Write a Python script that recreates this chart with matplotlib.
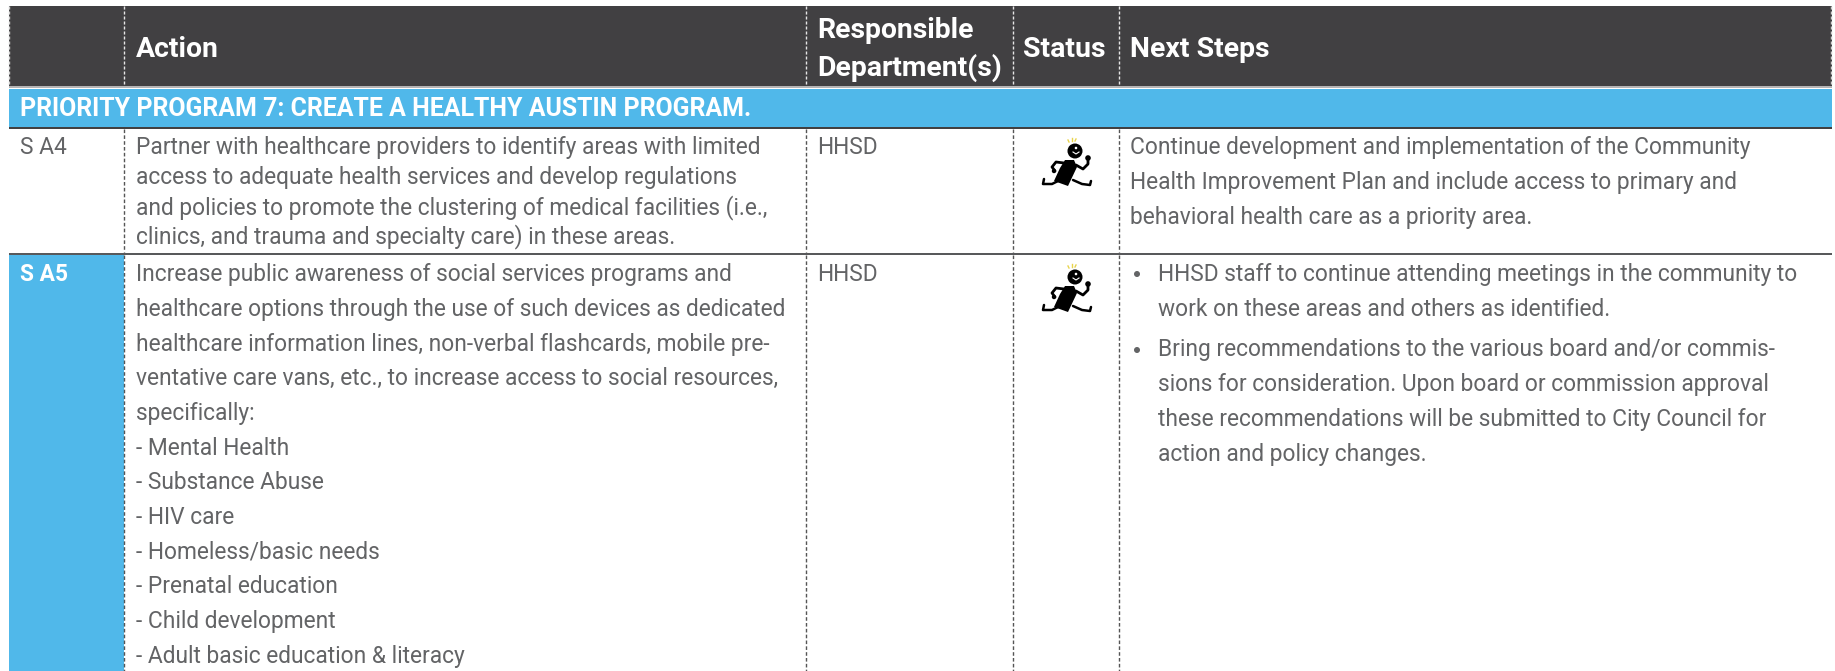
import matplotlib
matplotlib.use("Agg")
import matplotlib.pyplot as plt
from matplotlib.patches import Circle, Polygon, Rectangle

W, H = 1835, 671

header_labels = ["Action", "Responsible\nDepartment(s)", "Status", "Next Steps"]
priority_label = "PRIORITY PROGRAM 7: CREATE A HEALTHY AUSTIN PROGRAM."
row_ids = ["S A4", "S A5"]
departments = ["HHSD", "HHSD"]

s_a4_action = [
    "Partner with healthcare providers to identify areas with limited",
    "access to adequate health services and develop regulations",
    "and policies to promote the clustering of medical facilities (i.e.,",
    "clinics, and trauma and specialty care) in these areas.",
]
s_a4_next = [
    "Continue development and implementation of the Community",
    "Health Improvement Plan and include access to primary and",
    "behavioral health care as a priority area.",
]
s_a5_action = [
    "Increase public awareness of social services programs and",
    "healthcare options through the use of such devices as dedicated",
    "healthcare information lines, non-verbal flashcards, mobile pre-",
    "ventative care vans, etc., to increase access to social resources,",
    "specifically:",
    "- Mental Health",
    "- Substance Abuse",
    "- HIV care",
    "- Homeless/basic needs",
    "- Prenatal education",
    "- Child development",
    "- Adult basic education & literacy",
]
s_a5_bullet_1 = [
    "HHSD staff to continue attending meetings in the community to",
    "work on these areas and others as identified.",
]
s_a5_bullet_2 = [
    "Bring recommendations to the various board and/or commis-",
    "sions for consideration. Upon board or commission approval",
    "these recommendations will be submitted to City Council for",
    "action and policy changes.",
]

DARK = "#414042"
BLUE = "#50b8ea"
TEXT = "#636466"
FONT = "Roboto"
BODY = 16.4

col_x = [9, 124, 806, 1013, 1119]
right = 1832


def body(ax, x, ys, lines):
    for y, line in zip(ys, lines):
        ax.text(x, y, line, color=TEXT, fontsize=BODY, family=FONT, va="baseline")


def runner(ax, cx, cy):
    # little running man, offsets are from the centre of the head
    ax.add_patch(Circle((cx, cy), 7.5, color="black", lw=0))
    ax.add_patch(Polygon([(cx - 10, cy + 9), (cx - 1, cy + 9), (cx + 2, cy + 16), (cx - 7, cy + 35),
                          (cx - 21, cy + 30), (cx - 15, cy + 17)], closed=True, color="black", lw=0))
    ax.plot([cx - 17, cx - 23, cx - 32, cx - 31], [cy + 30, cy + 33, cy + 33, cy + 28],
            color="black", lw=1.8, solid_capstyle="round")
    ax.plot([cx - 2, cx + 7, cx + 15, cx + 16], [cy + 29, cy + 33, cy + 34, cy + 30],
            color="black", lw=1.8, solid_capstyle="round")
    ax.plot([cx - 11, cx - 19, cx - 23, cx - 20], [cy + 12, cy + 11, cy + 16, cy + 20],
            color="black", lw=2, solid_capstyle="round")
    ax.plot([cx + 1, cx + 8, cx + 13, cx + 13], [cy + 14, cy + 18, cy + 13, cy + 8],
            color="black", lw=2, solid_capstyle="round")
    ax.add_patch(Circle((cx + 13, cy + 7), 2.8, color="black", lw=0))
    ax.add_patch(Circle((cx - 21, cy + 20), 2.2, color="black", lw=0))
    for dx0, dx1, dy0, dy1 in [(-6, -7, -9, -11), (-3, -3, -10, -13), (0, 1, -10, -12)]:
        ax.plot([cx + dx0, cx + dx1], [cy + dy0, cy + dy1], color="#e8d44d", lw=1)
    ax.plot([cx - 2, cx + 1, cx + 4], [cy + 1, cy + 3, cy + 1], color="white", lw=0.8)
    ax.add_patch(Circle((cx + 1, cy - 3), 1.3, color="white", lw=0))


fig = plt.figure(figsize=(W / 100, H / 100), dpi=100)
ax = fig.add_axes([0, 0, 1, 1])
ax.set_xlim(0, W)
ax.set_ylim(H, 0)
ax.axis("off")

# bands
ax.add_patch(Rectangle((col_x[0], 6), right - col_x[0], 80, color=DARK, lw=0))
ax.add_patch(Rectangle((col_x[0], 86), right - col_x[0], 1.5, color="#b5b5b6", lw=0))
ax.add_patch(Rectangle((col_x[0], 89), right - col_x[0], 37.5, color=BLUE, lw=0))
ax.add_patch(Rectangle((col_x[0], 126.5), right - col_x[0], 2.5, color=DARK, lw=0))
ax.add_patch(Rectangle((col_x[0], 255), col_x[1] - col_x[0], H - 255, color=BLUE, lw=0))
ax.add_patch(Rectangle((col_x[0], 252.5), right - col_x[0], 2.5, color="#58595b", lw=0))

# dashed column rules
for x in col_x[1:]:
    ax.plot([x, x], [6, 86], color="#e6e6e6", lw=1, dashes=(2.2, 1.4))
    ax.plot([x, x], [129, 252], color="#555555", lw=1, dashes=(2.6, 1.6))
    ax.plot([x, x], [255, H], color="#555555", lw=1, dashes=(2.6, 1.6))
for x in [col_x[0], right - 1]:
    ax.plot([x, x], [6, 86], color="#d0d0d0", lw=1, dashes=(2.2, 1.4))

# header
header_x = [136, 817, 1023, 1130]
header_y = [57, 76, 57, 57]
for x, y, label in zip(header_x, header_y, header_labels):
    ax.text(x, y, label, color="white", fontsize=20.4, fontweight="bold", family=FONT,
            va="baseline", linespacing=1.46)
ax.text(20, 116, priority_label, color="white", fontsize=17.9, fontweight="bold", family=FONT, va="baseline")

# row ids
ax.text(20, 154, row_ids[0], color=TEXT, fontsize=BODY, family=FONT, va="baseline")
ax.text(20, 281, row_ids[1], color="white", fontsize=BODY, fontweight="bold", family=FONT, va="baseline")

# S A4
body(ax, 136, [154, 184, 214, 243], s_a4_action)
body(ax, 1130, [154, 189, 224], s_a4_next)
# S A5
body(ax, 136, [281, 316, 351, 385, 420, 455, 489, 524, 559, 593, 628, 663], s_a5_action)
body(ax, 1158, [281, 316], s_a5_bullet_1)
body(ax, 1158, [356, 391, 426, 461], s_a5_bullet_2)
for y in [274, 350]:
    ax.add_patch(Circle((1137, y), 3, color=TEXT, lw=0))

body(ax, 817, [154], departments[:1])
body(ax, 817, [281], departments[1:])

runner(ax, 1075, 151)
runner(ax, 1075, 277)

fig.savefig("out.png", dpi=100)
